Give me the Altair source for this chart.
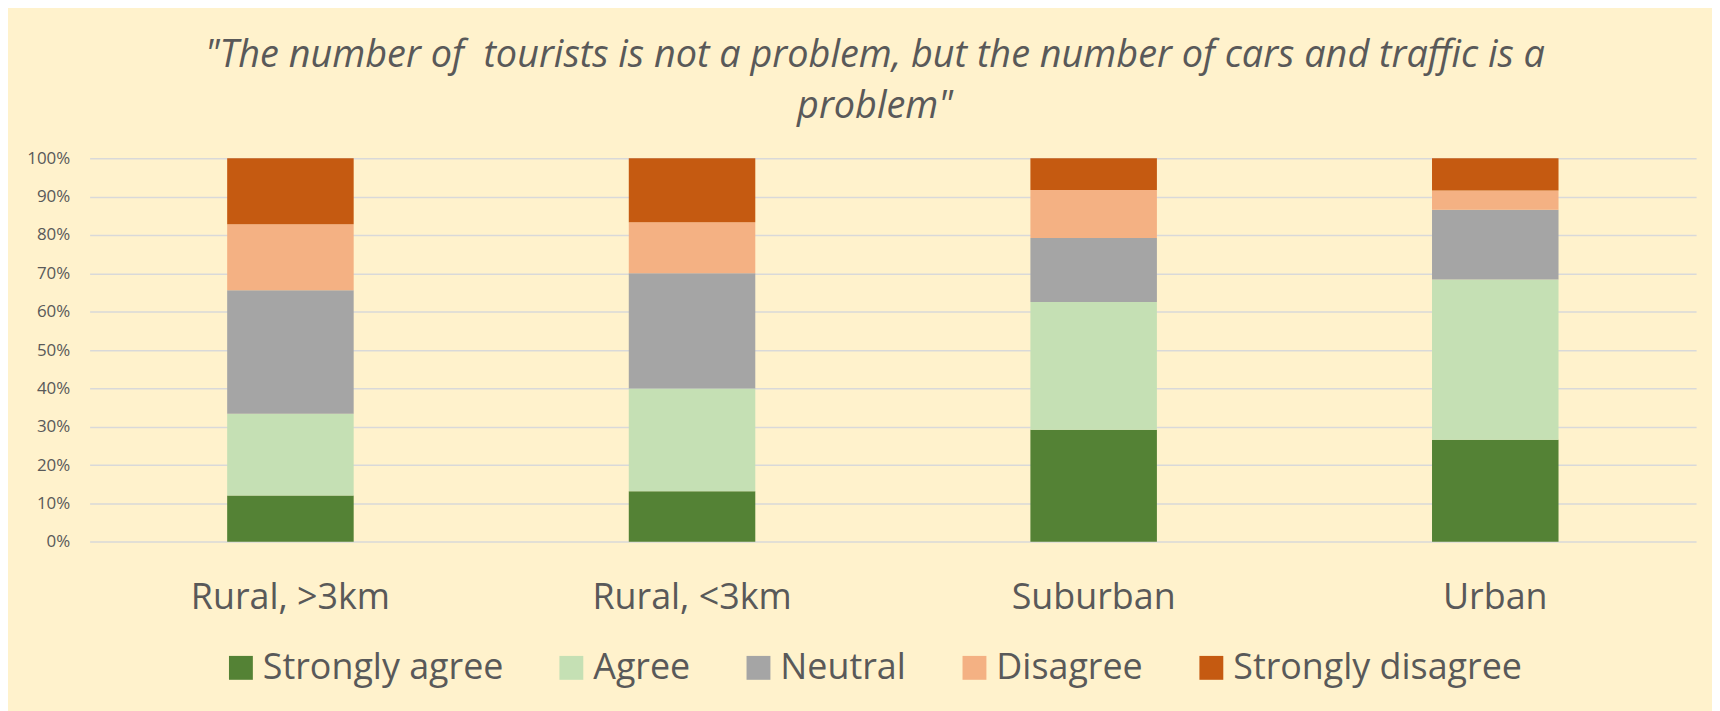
import altair as alt
import pandas as pd

categories = ["Rural, >3km", "Rural, <3km", "Suburban", "Urban"]
responses = ["Strongly agree", "Agree", "Neutral", "Disagree", "Strongly disagree"]
colors = ["#548235", "#C5E0B4", "#A5A5A5", "#F4B183", "#C55A11"]

strongly_agree = [12.1, 13.2, 29.2, 26.6]
agree = [21.3, 26.8, 33.3, 41.8]
neutral = [32.2, 30.0, 16.7, 18.2]
disagree = [17.2, 13.3, 12.5, 5.0]
strongly_disagree = [17.2, 16.7, 8.3, 8.4]

series = [strongly_agree, agree, neutral, disagree, strongly_disagree]
rows = []
for ri, (resp, vals) in enumerate(zip(responses, series)):
    for cat, v in zip(categories, vals):
        rows.append({"category": cat, "response": resp, "order": ri, "share": v / 100.0})
df = pd.DataFrame(rows)

TEXT = "#595959"
FONT = "Open Sans"

chart = alt.Chart(df).mark_bar().encode(
    x=alt.X("category:N", sort=categories, title=None,
            scale=alt.Scale(paddingInner=0.685, paddingOuter=0.3425),
            axis=alt.Axis(labelAngle=0, labelFontSize=36, labelColor=TEXT, labelFont=FONT,
                          ticks=False, tickSize=0, domain=False, labelBaseline="alphabetic",
                          labelPadding=67, grid=False, labelLimit=0)),
    y=alt.Y("share:Q", stack="zero", title=None,
            scale=alt.Scale(domain=[0, 1], nice=False),
            axis=alt.Axis(format=".0%", values=[i / 10 for i in range(11)], labelFontSize=17,
                          labelColor=TEXT, labelFont=FONT, ticks=False, tickSize=0, domain=False,
                          labelPadding=20, gridColor="#D9D9D9", gridWidth=1.5)),
    color=alt.Color("response:N", scale=alt.Scale(domain=responses, range=colors),
                    legend=alt.Legend(title=None, orient="none", direction="horizontal",
                                      legendX=134, legendY=494, columns=5,
                                      symbolType="square", symbolSize=576, symbolStrokeWidth=0,
                                      labelFontSize=36, labelColor=TEXT, labelFont=FONT,
                                      labelOffset=4, columnPadding=50, symbolOpacity=1,
                                      labelLimit=0)),
    order=alt.Order("order:Q", sort="ascending"),
).properties(
    width=1614,
    height=385.4,
    title=alt.TitleParams(
        text=['"The number of\u00a0 tourists is not a problem, but the number of cars and traffic is a',
              'problem"'],
        fontSize=38, font=FONT, fontStyle="italic", fontWeight="normal", color=TEXT,
        anchor="middle", dx=-18, offset=23, lineHeight=52),
    background="#FFF2CC",
    autosize=alt.AutoSizeParams(type="none"),
    padding={"left": 82, "top": 149.3, "right": 16, "bottom": 168.3},
).configure_view(stroke=None)

chart.save("out.html", embed_options={"renderer": "svg", "actions": False})
